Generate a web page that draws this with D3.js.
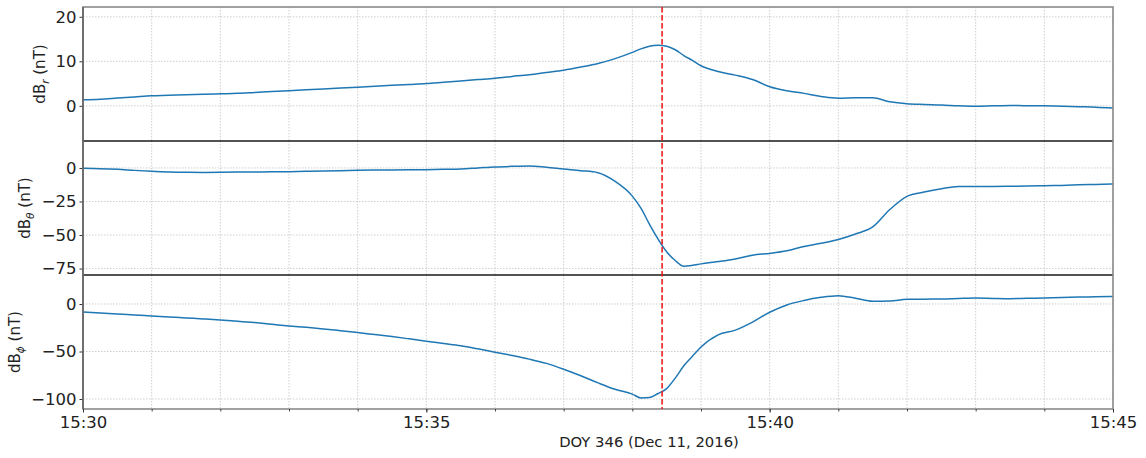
<!DOCTYPE html>
<html>
<head>
<meta charset="utf-8">
<script src="https://cdn.jsdelivr.net/npm/d3@7"></script>
<style>
  body { margin: 0; background: #fff; }
  svg { display: block; }
  text { font-family: "DejaVu Sans", Verdana, sans-serif; }
</style>
</head>
<body>
<svg id="chart" width="1146" height="458"></svg>
<script>
// Magnetometer perturbation components, 15:30-15:45 UT, DOY 346 (Dec 11, 2016)
const startTime = "2016-12-11T15:30:00Z";
const endTime = "2016-12-11T15:45:00Z";
const eventTime = "2016-12-11T15:38:26Z";

// sample times, minutes after 15:30
const minutes = [
  0, 0.25, 0.5, 0.75, 1, 1.25, 1.5, 1.75, 2, 2.25, 2.5, 2.75, 3, 3.25, 3.5, 3.75,
  4, 4.25, 4.5, 4.75, 5, 5.25, 5.5, 5.75, 6, 6.25, 6.5, 6.75, 7, 7.25, 7.5, 7.75,
  8, 8.125, 8.25, 8.375, 8.5, 8.625, 8.75, 8.875, 9, 9.25, 9.5, 9.75,
  10, 10.25, 10.5, 10.75, 11, 11.25, 11.5, 11.75, 12, 12.25, 12.5, 12.75,
  13, 13.25, 13.5, 13.75, 14, 14.25, 14.5, 14.75, 15
];

// dB_r (nT)
const dBr = [
  1.35, 1.5, 1.75, 2.0, 2.25, 2.35, 2.5, 2.6, 2.7, 2.8, 3.0, 3.2, 3.4, 3.6, 3.8, 4.0,
  4.2, 4.4, 4.6, 4.8, 5.0, 5.3, 5.6, 5.9, 6.2, 6.6, 7.0, 7.5, 8.0, 8.7, 9.5, 10.6,
  12.0, 12.8, 13.4, 13.6, 13.4, 12.6, 11.3, 10.2, 9.0, 7.7, 6.9, 5.9,
  4.3, 3.4, 2.8, 2.1, 1.7, 1.8, 1.8, 0.9, 0.45, 0.3, 0.2, 0.0,
  -0.1, 0.0, 0.1, 0.0, 0.0, -0.1, -0.2, -0.3, -0.5
];

// dB_theta (nT)
const dBtheta = [
  -0.25, -0.5, -1.0, -1.8, -2.5, -3.0, -3.25, -3.3, -3.25, -3.1, -3.0, -2.9, -2.75, -2.5, -2.25, -2.0,
  -1.75, -1.6, -1.5, -1.4, -1.25, -1.0, -0.75, 0.0, 0.75, 1.2, 1.5, 0.5, -0.8, -2.0, -3.5, -10,
  -21, -30, -42, -53, -62.5, -69, -73.2, -72.6, -71.5, -69.8, -67.8, -65,
  -63.7, -61.8, -58.5, -56.2, -53.3, -49.2, -44.0, -31.0, -21.2, -18.0, -15.5, -13.8,
  -13.75, -13.75, -13.7, -13.5, -13.25, -13.0, -12.6, -12.3, -12.0
];

// dB_phi (nT)
const dBphi = [
  -8.4, -9.4, -10.5, -11.5, -12.6, -13.6, -14.7, -15.7, -16.8, -18.2, -19.6, -21.3, -23.1, -24.6, -26.2, -28.1,
  -30.1, -32.2, -34.3, -36.7, -39.2, -41.6, -44.0, -47.2, -50.7, -54.2, -58.0, -62.5, -68.6, -75.5, -83.0, -89.8,
  -94.8, -98.8, -98.5, -94.2, -89.0, -78.0, -65.0, -55.0, -45.3, -32.5, -27.5, -19.0,
  -8.7, -1.0, 3.7, 7.0, 8.7, 6.0, 2.8, 3.1, 4.9, 5.1, 5.2, 5.8,
  6.3, 5.9, 5.6, 6.0, 6.3, 6.8, 7.3, 7.6, 8.0
];

const brTicks = [0, 10, 20];
const thetaTicks = [-75, -50, -25, 0];
const phiTicks = [-100, -50, 0];
const timeTickMinutes = [0, 5, 10, 15];

// ---- layout ----
const left = 83, right = 1113;
const panelTop = 7, panelH = 134;

const svg = d3.select("#chart");
const t0 = new Date(startTime);
const toDate = m => new Date(t0.getTime() + m * 60000);

const x = d3.scaleUtc()
  .domain([new Date(startTime), new Date(endTime)])
  .range([left, right]);

// each y label sits just left of its own tick labels
const panels = [
  { values: dBr, domain: [-7.9, 22.2], ticks: brTicks, sub: "r", labelX: 45 },
  { values: dBtheta, domain: [-79.8, 20.1], ticks: thetaTicks, sub: "θ", labelX: 30 },
  { values: dBphi, domain: [-110.5, 30.5], ticks: phiTicks, sub: "ϕ", labelX: 20 }
];

const fmtNum = d => (d < 0 ? "\u2212" + Math.abs(d) : String(d));
const minuteTicks = d3.range(0, 16).map(toDate);
const majorTicks = timeTickMinutes.map(toDate);

const defs = svg.append("defs");
const gridLayer = svg.append("g");
const traceLayer = svg.append("g");
const axisLayer = svg.append("g");

panels.forEach((p, i) => {
  const top = panelTop + i * panelH;
  const bottom = top + panelH;
  const y = d3.scaleLinear().domain(p.domain).range([bottom, top]);

  defs.append("clipPath").attr("id", "clip" + i)
    .append("rect").attr("x", left).attr("y", top).attr("width", right - left).attr("height", panelH);

  // grid: every minute vertically, at each y tick horizontally
  gridLayer.append("g").selectAll("line").data(minuteTicks).join("line")
    .attr("x1", d => x(d)).attr("x2", d => x(d))
    .attr("y1", top).attr("y2", bottom)
    .attr("stroke", "#c9c9c9").attr("stroke-width", 0.9).attr("stroke-dasharray", "1.5,1.5");
  gridLayer.append("g").selectAll("line").data(p.ticks).join("line")
    .attr("x1", left).attr("x2", right)
    .attr("y1", d => y(d)).attr("y2", d => y(d))
    .attr("stroke", "#c9c9c9").attr("stroke-width", 0.9).attr("stroke-dasharray", "1.5,1.5");

  // trace
  const pts = minutes.map((m, k) => ({ t: toDate(m), v: p.values[k] }));
  traceLayer.append("path").datum(pts)
    .attr("clip-path", `url(#clip${i})`)
    .attr("fill", "none").attr("stroke", "#1f77b4").attr("stroke-width", 1.5)
    .attr("stroke-linejoin", "round")
    .attr("d", d3.line().x(d => x(d.t)).y(d => y(d.v)).curve(d3.curveMonotoneX));

  // y axis
  const ax = axisLayer.append("g").attr("transform", `translate(${left},0)`)
    .call(d3.axisLeft(y).tickValues(p.ticks).tickSize(3.5).tickPadding(3).tickFormat(fmtNum));
  ax.select(".domain").remove();
  ax.selectAll(".tick line").attr("stroke", "#333");
  ax.selectAll(".tick text").attr("font-size", 16.5).attr("fill", "#222")
    .style("font-family", '"DejaVu Sans", Verdana, sans-serif');

  // y label
  const lab = axisLayer.append("text")
    .attr("transform", `translate(${p.labelX},${(top + bottom) / 2}) rotate(-90)`)
    .attr("text-anchor", "middle").attr("font-size", 15).attr("fill", "#222");
  lab.append("tspan").text("dB");
  lab.append("tspan").attr("font-size", 10.5).attr("dy", 4)
    .attr("font-style", "italic").text(p.sub);
  lab.append("tspan").attr("dy", -4).text(" (nT)");

  // separator between panels
  if (i > 0) {
    axisLayer.append("line").attr("x1", left).attr("x2", right).attr("y1", top).attr("y2", top)
      .attr("stroke", "#1a1a1a").attr("stroke-width", 1.4);
  }
});

// outer frame
const frameBottom = panelTop + 3 * panelH;
axisLayer.append("rect")
  .attr("x", left).attr("y", panelTop).attr("width", right - left).attr("height", frameBottom - panelTop)
  .attr("fill", "none").attr("stroke", "#8a8a8a").attr("stroke-width", 1.6);
axisLayer.append("line").attr("x1", left).attr("x2", left).attr("y1", panelTop).attr("y2", frameBottom)
  .attr("stroke", "#555").attr("stroke-width", 1.3);

// event marker
axisLayer.append("line")
  .attr("x1", x(new Date(eventTime))).attr("x2", x(new Date(eventTime)))
  .attr("y1", panelTop).attr("y2", frameBottom)
  .attr("stroke", "#ee1111").attr("stroke-width", 1.5).attr("stroke-dasharray", "5.5,2.5");

// time axis: minor ticks each minute, labelled ticks every 5 minutes
const minorAx = axisLayer.append("g").attr("transform", `translate(0,${frameBottom})`)
  .call(d3.axisBottom(x).tickValues(minuteTicks).tickSize(2.5).tickFormat(""));
minorAx.select(".domain").remove();
minorAx.selectAll(".tick line").attr("stroke", "#444");

const xAx = axisLayer.append("g").attr("transform", `translate(0,${frameBottom})`)
  .call(d3.axisBottom(x).tickValues(majorTicks).tickSize(3.5).tickPadding(4)
    .tickFormat(d3.utcFormat("%H:%M")));
xAx.select(".domain").remove();
xAx.selectAll(".tick line").attr("stroke", "#333");
xAx.selectAll(".tick text").attr("font-size", 16.5).attr("fill", "#222")
  .style("font-family", '"DejaVu Sans", Verdana, sans-serif');

axisLayer.append("text")
  .attr("x", 649).attr("y", 447)
  .attr("text-anchor", "middle").attr("font-size", 14.8).attr("fill", "#222")
  .text("DOY 346 (Dec 11, 2016)");
</script>
</body>
</html>
